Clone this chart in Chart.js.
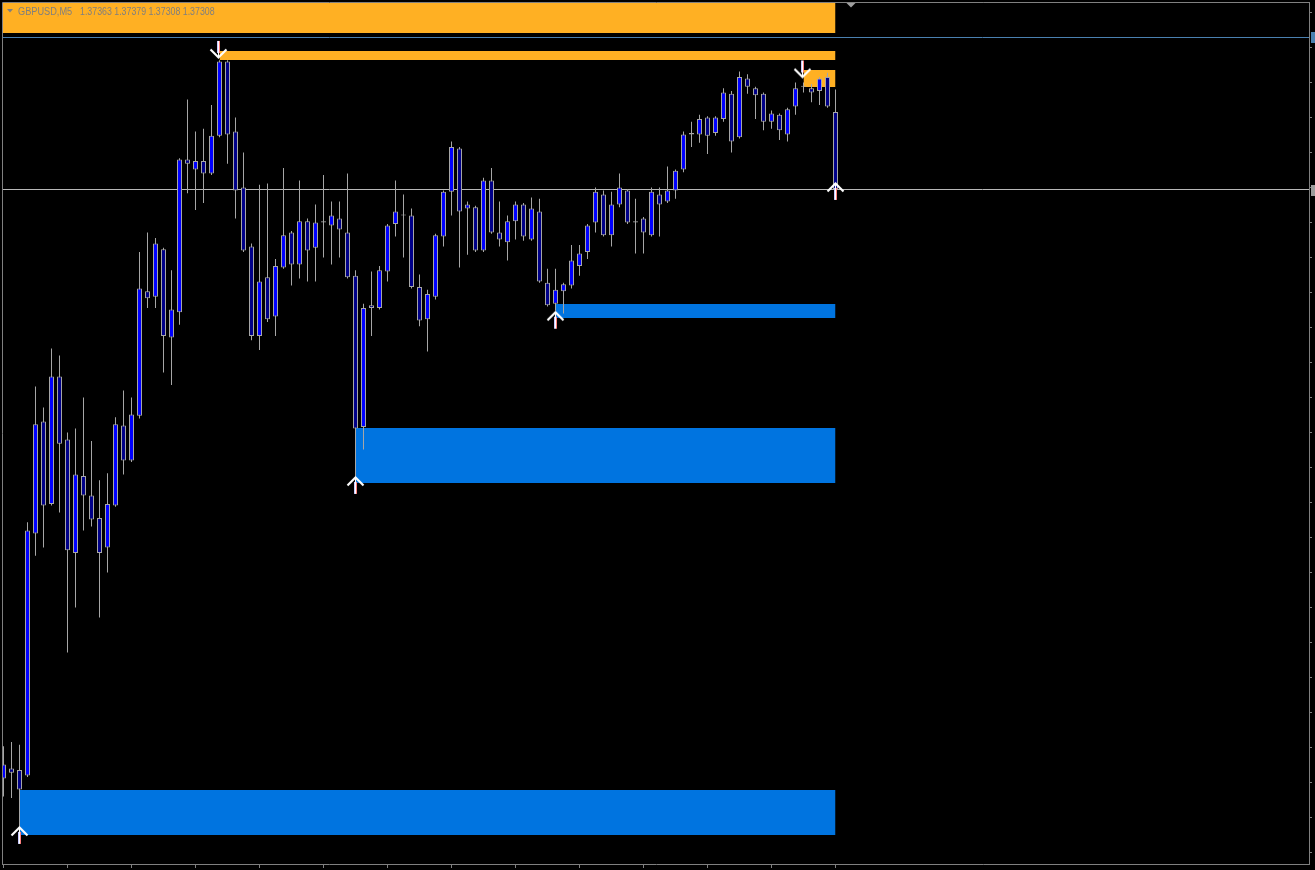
<!DOCTYPE html>
<html>
<head>
<meta charset="utf-8">
<title>GBPUSD,M5</title>
<script src="https://cdn.jsdelivr.net/npm/chart.js@4.4.1/dist/chart.umd.min.js"></script>
<style>
  html, body { margin: 0; padding: 0; background: #000; overflow: hidden; }
  canvas { display: block; }
</style>
</head>
<body>
<canvas id="chart" width="1315" height="870"></canvas>
<script>
const symbol = 'GBPUSD';
const period = 'M5';

// M5 bars, oldest first
const opens = [
  1.36887,1.36894,1.36893,1.36889,1.37062,1.37142,1.37083,1.37174,1.37129,1.37048,
  1.37103,1.37089,1.37073,1.37052,1.37082,1.37139,1.37114,1.37146,1.37235,1.37231,
  1.37265,1.37202,1.37220,1.37329,1.37322,1.37328,1.37319,1.37346,1.37399,1.37349,
  1.37309,1.37267,1.37203,1.37245,1.37217,1.37252,1.37277,1.37254,1.37285,1.37266,
  1.37285,1.37282,1.37287,1.37277,1.37246,1.37138,1.37225,1.37223,1.37249,1.37283,
  1.37289,1.37289,1.37238,1.37215,1.37231,1.37274,1.37306,1.37337,1.37294,1.37295,
  1.37264,1.37314,1.37277,1.37270,1.37285,1.37297,1.37272,1.37292,1.37241,1.37226,
  1.37235,1.37239,1.37253,1.37263,1.37284,1.37304,1.37275,1.37297,1.37307,1.37284,
  1.37287,1.37275,1.37304,1.37299,1.37307,1.37322,1.37348,1.37347,1.37359,1.37348,
  1.37358,1.37376,1.37345,1.37387,1.37380,1.37376,1.37356,1.37361,1.37347,1.37367,
  1.37381,1.37380,1.37378,1.37388,1.37363
];
const highs = [
  1.36910,1.36913,1.36911,1.37070,1.37167,1.37152,1.37194,1.37189,1.37134,1.37137,
  1.37159,1.37128,1.37100,1.37105,1.37145,1.37164,1.37159,1.37263,1.37277,1.37273,
  1.37266,1.37250,1.37330,1.37372,1.37349,1.37351,1.37368,1.37400,1.37400,1.37359,
  1.37334,1.37269,1.37311,1.37312,1.37258,1.37323,1.37278,1.37314,1.37287,1.37297,
  1.37318,1.37299,1.37299,1.37319,1.37250,1.37226,1.37249,1.37253,1.37283,1.37314,
  1.37304,1.37294,1.37247,1.37236,1.37276,1.37307,1.37342,1.37338,1.37299,1.37296,
  1.37316,1.37323,1.37299,1.37289,1.37299,1.37298,1.37302,1.37301,1.37251,1.37251,
  1.37241,1.37268,1.37268,1.37283,1.37309,1.37307,1.37306,1.37319,1.37308,1.37301,
  1.37288,1.37309,1.37309,1.37324,1.37322,1.37349,1.37356,1.37361,1.37360,1.37360,
  1.37380,1.37378,1.37392,1.37390,1.37381,1.37377,1.37364,1.37362,1.37366,1.37384,
  1.37384,1.37383,1.37388,1.37391,1.37379
];
const lows = [
  1.36874,1.36873,1.36850,1.36888,1.37046,1.37052,1.37082,1.37077,1.36977,1.37009,
  1.37064,1.37067,1.37002,1.37034,1.37081,1.37104,1.37113,1.37144,1.37223,1.37223,
  1.37177,1.37168,1.37211,1.37305,1.37293,1.37298,1.37318,1.37345,1.37326,1.37287,
  1.37263,1.37200,1.37193,1.37213,1.37203,1.37251,1.37239,1.37244,1.37242,1.37242,
  1.37259,1.37254,1.37259,1.37244,1.37102,1.37122,1.37203,1.37222,1.37242,1.37274,
  1.37259,1.37237,1.37210,1.37192,1.37229,1.37267,1.37289,1.37252,1.37261,1.37263,
  1.37263,1.37276,1.37267,1.37257,1.37272,1.37271,1.37271,1.37241,1.37224,1.37221,
  1.37219,1.37237,1.37246,1.37258,1.37277,1.37274,1.37267,1.37295,1.37283,1.37262,
  1.37262,1.37274,1.37274,1.37298,1.37301,1.37320,1.37338,1.37341,1.37333,1.37346,
  1.37356,1.37334,1.37344,1.37376,1.37358,1.37350,1.37351,1.37343,1.37342,1.37361,
  1.37377,1.37370,1.37368,1.37366,1.37308
];
const closes = [
  1.36897,1.36891,1.36879,1.37064,1.37140,1.37082,1.37174,1.37126,1.37050,1.37104,
  1.37089,1.37072,1.37048,1.37083,1.37140,1.37114,1.37147,1.37237,1.37230,1.37269,
  1.37203,1.37222,1.37329,1.37326,1.37328,1.37319,1.37346,1.37399,1.37347,1.37307,
  1.37264,1.37203,1.37242,1.37215,1.37253,1.37275,1.37254,1.37285,1.37264,1.37284,
  1.37284,1.37289,1.37279,1.37245,1.37137,1.37223,1.37223,1.37250,1.37282,1.37292,
  1.37289,1.37238,1.37214,1.37233,1.37275,1.37306,1.37338,1.37292,1.37297,1.37264,
  1.37314,1.37277,1.37272,1.37285,1.37297,1.37274,1.37294,1.37242,1.37225,1.37236,
  1.37240,1.37257,1.37262,1.37282,1.37306,1.37275,1.37297,1.37309,1.37284,1.37285,
  1.37277,1.37306,1.37297,1.37307,1.37321,1.37347,1.37347,1.37358,1.37346,1.37359,
  1.37377,1.37342,1.37388,1.37381,1.37375,1.37356,1.37362,1.37350,1.37365,1.37380,
  1.37381,1.37377,1.37387,1.37367,1.37308
];

// supply / demand zones (bar index from..to, price band)
const zoneFrom = [-1, 27, 100, 2, 44, 69];
const zoneTo   = [104, 104, 104, 104, 104, 104];
const zoneHigh = [1.37460, 1.374066, 1.373930, 1.368787, 1.371373, 1.372259];
const zoneLow  = [1.374194, 1.374001, 1.373809, 1.368466, 1.370980, 1.372159];
const zoneKind = ['supply', 'supply', 'supply', 'demand', 'demand', 'demand'];

// swing arrows (bar index, price of the arrow tip)
const upArrowBars = [2, 44, 69, 104];
const upArrowPrices = [1.36852, 1.37102, 1.37220, 1.37312];
const downArrowBars = [27, 100];
const downArrowPrices = [1.37402, 1.37388];

const levelLinePrice = 1.374166;

// axis tick values
const priceTicks = [
  1.374344,1.374094,1.373844,1.373594,1.373344,1.373094,1.372844,1.372594,1.372344,
  1.372094,1.371844,1.371594,1.371344,1.371094,1.370844,1.370594,1.370344,1.370094,
  1.369844,1.369594,1.369344,1.369094,1.368844,1.368594,1.368344
];
const timeTicks = [0, 8, 16, 24, 32, 40, 48, 56, 64, 72, 80, 88, 96, 104];

const BULL = '#0000ff';
const BEAR = '#000088';
const WICK = '#a6a6a6';
const AXIS = '#808080';
const zoneColors = { supply: '#ffb023', demand: '#0074e0' };

function arrowImage(up) {
  const c = document.createElement('canvas');
  c.width = 21;
  c.height = 37;
  const g = c.getContext('2d');
  if (!up) {
    g.translate(-1, 37);
    g.scale(1, -1);
  }
  g.fillStyle = '#c8c8ff';
  g.fillRect(9, 23, 1, 12);
  g.fillStyle = '#ff8080';
  g.fillRect(11, 23, 1, 12);
  g.fillStyle = '#ffffff';
  g.fillRect(10, 18, 1, 17);
  g.strokeStyle = '#ffffff';
  g.lineWidth = 2.2;
  g.beginPath();
  g.moveTo(2.5, 26.5);
  g.lineTo(10.5, 18.5);
  g.lineTo(18.5, 26.5);
  g.stroke();
  return c;
}

const last = opens.length - 1;

const mt4Look = {
  id: 'mt4Look',
  beforeDraw(chart) {
    const ctx = chart.ctx;
    ctx.save();
    ctx.fillStyle = '#000';
    ctx.fillRect(0, 0, chart.width, chart.height);
    ctx.restore();
  },
  beforeDatasetsDraw(chart) {
    const { ctx, chartArea, scales: { y } } = chart;
    const row = v => Math.round(y.getPixelForValue(v)) + 0.5;
    ctx.save();
    ctx.lineWidth = 1;
    ctx.strokeStyle = '#4a80b0';
    ctx.beginPath();
    ctx.moveTo(chartArea.left, row(levelLinePrice));
    ctx.lineTo(chartArea.right, row(levelLinePrice));
    ctx.stroke();
    ctx.strokeStyle = '#b8b8b8';
    ctx.beginPath();
    ctx.moveTo(chartArea.left, row(closes[last]));
    ctx.lineTo(chartArea.right, row(closes[last]));
    ctx.stroke();
    ctx.restore();
  },
  afterDraw(chart) {
    const { ctx, chartArea, scales: { x, y } } = chart;
    ctx.save();
    // frame
    ctx.strokeStyle = AXIS;
    ctx.lineWidth = 1;
    ctx.beginPath();
    ctx.moveTo(chartArea.left - 0.5, chartArea.bottom + 1);
    ctx.lineTo(chartArea.left - 0.5, chartArea.top - 0.5);
    ctx.lineTo(chartArea.right + 1, chartArea.top - 0.5);
    ctx.stroke();

    // price markers on the right scale
    const bidRow = Math.round(y.getPixelForValue(closes[last]));
    const lvlRow = Math.round(y.getPixelForValue(levelLinePrice));
    ctx.fillStyle = '#9c9c9c';
    ctx.fillRect(chartArea.right + 2, bidRow - 4, 6, 11);
    ctx.fillStyle = '#4a80b0';
    ctx.fillRect(chartArea.right + 2, lvlRow - 5, 6, 11);

    // chart shift marker
    const sx = Math.round(x.getPixelForValue(last + 2)) - 1;
    ctx.fillStyle = '#a0a0a0';
    ctx.beginPath();
    ctx.moveTo(sx - 4.5, chartArea.top);
    ctx.lineTo(sx + 4.5, chartArea.top);
    ctx.lineTo(sx, chartArea.top + 4.5);
    ctx.closePath();
    ctx.fill();

    // header
    ctx.fillStyle = '#7f7f7f';
    ctx.beginPath();
    ctx.moveTo(7, 9);
    ctx.lineTo(13, 9);
    ctx.lineTo(10, 12.5);
    ctx.closePath();
    ctx.fill();
    ctx.font = '10px "Liberation Sans", Arial, sans-serif';
    ctx.textBaseline = 'alphabetic';
    ctx.save();
    ctx.translate(18, 15);
    ctx.scale(0.92, 1);
    ctx.fillText(symbol + ',' + period, 0, 0);
    ctx.restore();
    const ohlc = [opens[last], highs[last], lows[last], closes[last]].map(v => v.toFixed(5)).join(' ');
    ctx.translate(80, 15);
    ctx.scale(0.88, 1);
    ctx.fillText(ohlc, 0, 0);
    ctx.restore();
  }
};

const barIndex = opens.map((o, i) => i);

const zoneSets = zoneFrom.map((from, k) => ({
  type: 'line',
  label: zoneKind[k] + ' zone',
  data: [{ x: from, y: zoneHigh[k] }, { x: zoneTo[k], y: zoneHigh[k] }],
  fill: { value: zoneLow[k] },
  backgroundColor: zoneColors[zoneKind[k]],
  borderColor: 'rgba(0,0,0,0)',
  borderWidth: 0,
  pointRadius: 0,
  order: 3,
  clip: 0
}));

new Chart(document.getElementById('chart').getContext('2d'), {
  type: 'bar',
  data: {
    datasets: [
      {
        type: 'scatter',
        label: 'swing low',
        data: upArrowBars.map((b, k) => ({ x: b, y: upArrowPrices[k] })),
        pointStyle: arrowImage(true),
        pointRadius: 5,
        order: 0
      },
      {
        type: 'scatter',
        label: 'swing high',
        data: downArrowBars.map((b, k) => ({ x: b, y: downArrowPrices[k] })),
        pointStyle: arrowImage(false),
        pointRadius: 5,
        order: 0
      },
      {
        label: 'body',
        data: barIndex.map(i => ({ x: i, y: [opens[i], closes[i]] })),
        backgroundColor: barIndex.map(i => closes[i] >= opens[i] ? BULL : BEAR),
        borderColor: WICK,
        borderWidth: 1,
        borderSkipped: false,
        barThickness: 5,
        minBarLength: 1,
        inflateAmount: 0,
        grouped: false,
        order: 1,
        clip: 0
      },
      {
        label: 'wick',
        data: barIndex.map(i => ({ x: i, y: [lows[i], highs[i]] })),
        backgroundColor: WICK,
        borderWidth: 0,
        barThickness: 1,
        inflateAmount: 0,
        grouped: false,
        order: 2,
        clip: 0
      },
      ...zoneSets
    ]
  },
  options: {
    responsive: false,
    animation: false,
    events: [],
    layout: { autoPadding: false, padding: { left: 3, top: 3, right: 0, bottom: 0 } },
    plugins: {
      legend: { display: false },
      tooltip: { enabled: false },
      title: { display: false }
    },
    scales: {
      x: {
        type: 'linear',
        position: 'bottom',
        min: -0.0625,
        max: 163.1875,
        offset: false,
        grid: { display: true, offset: false, drawOnChartArea: false, drawTicks: true, tickLength: 4, color: AXIS },
        border: { display: true, color: AXIS },
        ticks: { display: false },
        afterBuildTicks: axis => { axis.ticks = timeTicks.map(v => ({ value: v })); },
        afterFit: axis => { axis.height = 6; }
      },
      y: {
        type: 'linear',
        position: 'right',
        min: 1.36825857,
        max: 1.37440857,
        beginAtZero: false,
        grid: { display: true, drawOnChartArea: false, drawTicks: true, tickLength: 3, color: AXIS },
        border: { display: true, color: AXIS },
        ticks: { display: false },
        afterBuildTicks: axis => { axis.ticks = priceTicks.map(v => ({ value: v })); },
        afterFit: axis => { axis.width = 6; }
      }
    }
  },
  plugins: [mt4Look]
});
</script>
</body>
</html>
